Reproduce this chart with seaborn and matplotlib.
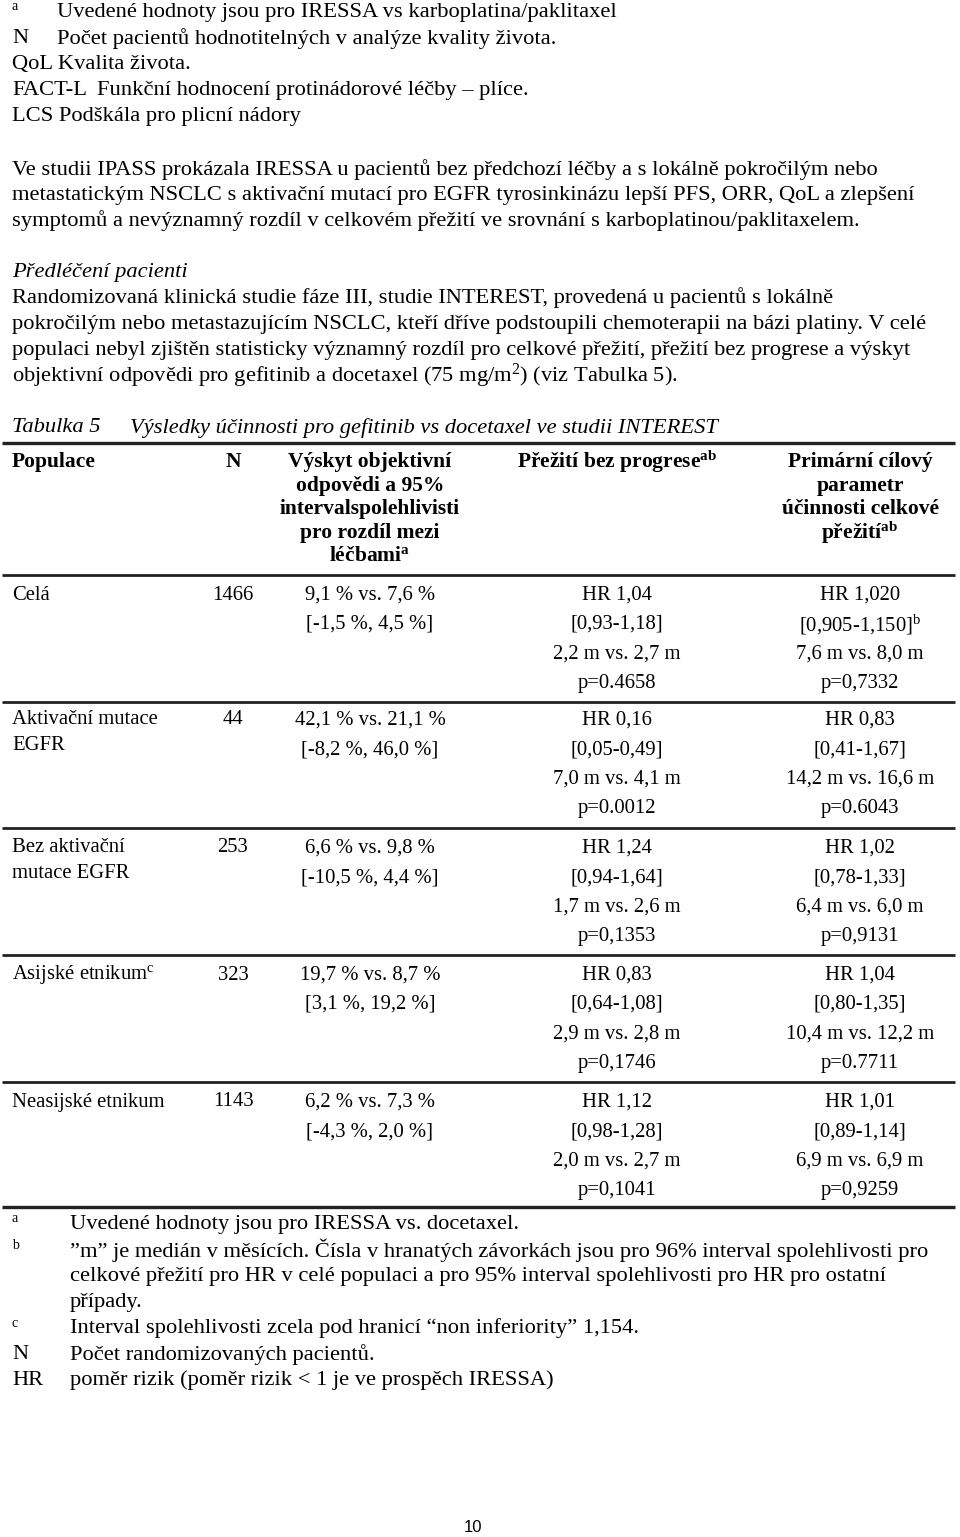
import matplotlib
matplotlib.use("Agg")
import matplotlib.pyplot as plt
import seaborn as sns
import pandas as pd

sns.set_theme(style="white")
plt.rcParams['font.family'] = ['Liberation Serif', 'DejaVu Serif']
plt.rcParams['mathtext.fontset'] = 'custom'
plt.rcParams['mathtext.rm'] = 'Liberation Serif'
plt.rcParams['mathtext.it'] = 'Liberation Serif:italic'
plt.rcParams['mathtext.bf'] = 'Liberation Serif:bold'

# --- text data ---
top_marks = ["a", "N", "", "FACT-L", ""]
top_notes = ["Uvedené hodnoty jsou pro IRESSA vs karboplatina/paklitaxel",
             "Počet pacientů hodnotitelných v analýze kvality života.",
             "QoL Kvalita života.",
             "Funkční hodnocení protinádorové léčby – plíce.",
             "LCS Podškála pro plicní nádory"]

para1 = ["Ve studii IPASS prokázala IRESSA u pacientů bez předchozí léčby a s lokálně pokročilým nebo",
         "metastatickým NSCLC s aktivační mutací pro EGFR tyrosinkinázu lepší PFS, ORR, QoL a zlepšení",
         "symptomů a nevýznamný rozdíl v celkovém přežití ve srovnání s karboplatinou/paklitaxelem."]

para2_title = "Předléčení pacienti"
para2 = ["Randomizovaná klinická studie fáze III, studie INTEREST, provedená u pacientů s lokálně",
         "pokročilým nebo metastazujícím NSCLC, kteří dříve podstoupili chemoterapii na bázi platiny. V celé",
         "populaci nebyl zjištěn statisticky významný rozdíl pro celkové přežití, přežití bez progrese a výskyt",
         "objektivní odpovědi pro gefitinib a docetaxel (75 mg/m$^{\\mathrm{2}}$) (viz Tabulka 5)."]

table_label = "Tabulka 5"
table_title = "Výsledky účinnosti pro gefitinib vs docetaxel ve studii INTEREST"

hdr_pop = ["Populace"]
hdr_n = ["N"]
hdr_orr = ["Výskyt objektivní", "odpovědi a 95%", "intervalspolehlivisti", "pro rozdíl mezi",
           "léčbami$^{\\mathbf{a}}$"]
hdr_pfs = ["Přežití bez progrese$^{\\mathbf{ab}}$"]
hdr_os = ["Primární cílový", "parametr", "účinnosti celkové", "přežití$^{\\mathbf{ab}}$"]

populace = [["Celá"], ["Aktivační mutace", "EGFR"], ["Bez aktivační", "mutace EGFR"],
            ["Asijské etnikum$^{\\mathrm{c}}$"], ["Neasijské etnikum"]]
n_pac = ["1466", "44", "253", "323", "1143"]
orr_diff = ["9,1 % vs. 7,6 %", "42,1 % vs. 21,1 %", "6,6 % vs. 9,8 %", "19,7 % vs. 8,7 %", "6,2 % vs. 7,3 %"]
orr_ci = ["[-1,5 %, 4,5 %]", "[-8,2 %, 46,0 %]", "[-10,5 %, 4,4 %]", "[3,1 %, 19,2 %]", "[-4,3 %, 2,0 %]"]
pfs_hr = ["HR 1,04", "HR 0,16", "HR 1,24", "HR 0,83", "HR 1,12"]
pfs_ci = ["[0,93-1,18]", "[0,05-0,49]", "[0,94-1,64]", "[0,64-1,08]", "[0,98-1,28]"]
pfs_med = ["2,2 m vs. 2,7 m", "7,0 m vs. 4,1 m", "1,7 m vs. 2,6 m", "2,9 m vs. 2,8 m", "2,0 m vs. 2,7 m"]
pfs_p = ["p=0.4658", "p=0.0012", "p=0,1353", "p=0,1746", "p=0,1041"]
os_hr = ["HR 1,020", "HR 0,83", "HR 1,02", "HR 1,04", "HR 1,01"]
os_ci = ["[0,905-1,150]$^{\\mathrm{b}}$", "[0,41-1,67]", "[0,78-1,33]", "[0,80-1,35]", "[0,89-1,14]"]
os_med = ["7,6 m vs. 8,0 m", "14,2 m vs. 16,6 m", "6,4 m vs. 6,0 m", "10,4 m vs. 12,2 m", "6,9 m vs. 6,9 m"]
os_p = ["p=0,7332", "p=0.6043", "p=0,9131", "p=0.7711", "p=0,9259"]

foot_marks = ["a", "b", "", "", "c", "N", "HR"]
foot_notes = ["Uvedené hodnoty jsou pro IRESSA vs. docetaxel.",
              "”m” je medián v měsících. Čísla v hranatých závorkách jsou pro 96% interval spolehlivosti pro",
              "celkové přežití pro HR v celé populaci a pro 95% interval spolehlivosti pro HR pro ostatní",
              "případy.",
              "Interval spolehlivosti zcela pod hranicí “non inferiority” 1,154.",
              "Počet randomizovaných pacientů.",
              "poměr rizik (poměr rizik < 1 je ve prospěch IRESSA)"]
page_no = "10"

fs = 16.2       # running text
fs_hdr = 15.5   # bold table header
fs_tab = 14.9   # table body
fig = plt.figure(figsize=(9.6, 15.37), dpi=100)
ax = fig.add_axes([0, 0, 1, 1])
ax.set_xlim(0, 960)
ax.set_ylim(1537, 0)
ax.axis('off')


def put(x, y, s, ha='left', size=fs, **kw):
    ax.text(x, y, s, ha=ha, va='center', fontsize=size, color='black', **kw)


# top abbreviation list
for i, (m, t) in enumerate(zip(top_marks, top_notes)):
    y = 12 + i * 26.2
    if m == "a":
        put(12, y - 5, m, size=10)
        put(57, y, t)
    elif m == "FACT-L":
        put(12, y, m)
        put(97, y, t)
    elif m:
        put(12, y, m)
        put(57, y, t)
    else:
        put(12, y, t)

for i, t in enumerate(para1):
    put(12, 170 + i * 25.5, t)

put(12, 272, para2_title, style='italic')
for i, t in enumerate(para2):
    put(12, 298 + i * 26, t)

put(12, 428, table_label, style='italic')
put(130, 428, table_title, style='italic')

# header
hdr_y = 462
hstep = 23.6
col_x = {'pop': 12, 'n': 233, 'orr': 370, 'pfs': 617, 'os': 860}
for key, lines in [('pop', hdr_pop), ('n', hdr_n), ('orr', hdr_orr), ('pfs', hdr_pfs), ('os', hdr_os)]:
    for j, t in enumerate(lines):
        put(col_x[key], hdr_y + j * hstep, t, ha='left' if key == 'pop' else 'center',
            size=fs_hdr, weight='bold')

# body rows
row_top = [595, 720, 848, 975, 1102]
rstep = 29.5
for i, y0 in enumerate(row_top):
    for j, t in enumerate(populace[i]):
        put(col_x['pop'], y0 + j * 25, t, size=fs_tab)
    put(col_x['n'], y0, n_pac[i], ha='center', size=fs_tab)
    for j, t in enumerate([orr_diff[i], orr_ci[i]]):
        put(col_x['orr'], y0 + j * rstep, t, ha='center', size=fs_tab)
    for j, t in enumerate([pfs_hr[i], pfs_ci[i], pfs_med[i], pfs_p[i]]):
        put(col_x['pfs'], y0 + j * rstep, t, ha='center', size=fs_tab)
    for j, t in enumerate([os_hr[i], os_ci[i], os_med[i], os_p[i]]):
        put(col_x['os'], y0 + j * rstep, t, ha='center', size=fs_tab)

# table rules
rules = pd.DataFrame({'y': [443, 575, 702, 828, 955, 1082, 1207],
                      'lw': [2.4, 2.0, 2.0, 2.0, 2.0, 2.0, 2.4]})
for _, r in rules.iterrows():
    ax.plot([2, 955], [r['y'], r['y']], color='#222222', lw=r['lw'], solid_capstyle='butt')

# footnotes
for i, (m, t) in enumerate(zip(foot_marks, foot_notes)):
    y = 1224 + i * 26.1
    if m in ("a", "b", "c"):
        put(12, y - 5, m, size=10)
    elif m:
        put(12, y, m)
    put(70, y, t)

ax.text(473, 1528, page_no, ha='center', va='center', fontsize=12,
        family=['Liberation Sans', 'DejaVu Sans'], color='black')

fig.savefig("out.png", dpi=100)
